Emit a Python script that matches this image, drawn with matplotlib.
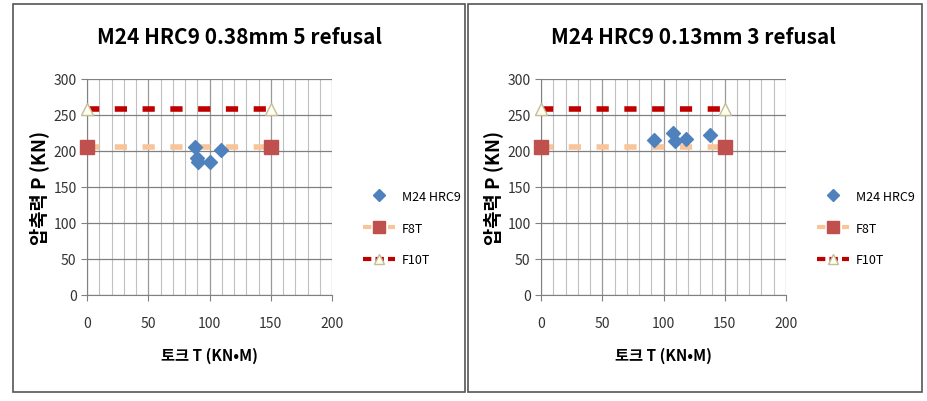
import matplotlib.pyplot as plt
from matplotlib.patches import Rectangle
from matplotlib.lines import Line2D

plt.rcParams['font.family'] = ['Noto Sans CJK KR', 'DejaVu Sans']

titles = ["M24 HRC9 0.38mm 5 refusal", "M24 HRC9 0.13mm 3 refusal"]
m24_x = [[88, 90, 91, 100, 109], [92, 108, 109, 118, 138]]
m24_y = [[205, 190, 185, 185, 201], [215, 225, 214, 216, 222]]
limit_x = [0, 150]
f8t_y = [205, 205]
f10t_y = [258, 258]
x_ticks = [0, 50, 100, 150, 200]
y_ticks = [0, 50, 100, 150, 200, 250, 300]

W, H = 927, 402
fig = plt.figure(figsize=(W / 100, H / 100), dpi=100)

# panel frames (pixels: x0, x1)
frames = [(13, 465), (468, 922)]
axes_left = [87, 541]
title_x = [240, 693]
for (fx0, fx1) in frames:
    fig.patches.append(Rectangle((fx0 / W, 1 - 393 / H), (fx1 - fx0) / W, 388 / H,
                                 transform=fig.transFigure, fill=False,
                                 edgecolor="#555555", linewidth=1.2))

for i in range(2):
    ax = fig.add_axes([axes_left[i] / W, 1 - 296 / H, 245 / W, 216 / H])
    ax.set_xlim(0, 200)
    ax.set_ylim(0, 300)
    ax.set_xticks(x_ticks)
    ax.set_yticks(y_ticks)
    ax.set_xticks(range(0, 201, 10), minor=True)
    ax.grid(True, which="minor", axis="x", color="#c0c0c0", linewidth=0.8)
    ax.grid(True, which="major", axis="x", color="#999999", linewidth=0.9)
    ax.grid(True, which="major", axis="y", color="#808080", linewidth=0.9)
    ax.tick_params(which="minor", length=0)
    ax.tick_params(which="major", length=4, color="#808080", labelsize=10,
                   labelcolor="#333333", direction="out")
    ax.tick_params(axis="x", pad=11)
    for s in ["top", "right"]:
        ax.spines[s].set_visible(False)
    for s in ["left", "bottom"]:
        ax.spines[s].set_color("#808080")
    ax.set_axisbelow(True)

    ax.plot(limit_x, f8t_y, color="#F8C49A", linewidth=4, dashes=(2.2, 2.8),
            marker="s", markersize=10, markerfacecolor="#C0504D",
            markeredgecolor="#C0504D", clip_on=False, zorder=3)
    ax.plot(limit_x, f10t_y, color="#C00000", linewidth=4, dashes=(2.2, 2.8),
            marker="^", markersize=9, markerfacecolor="#FFFFF0",
            markeredgecolor="#C4BD97", clip_on=False, zorder=3)
    ax.scatter(m24_x[i], m24_y[i], marker="D", s=50, color="#4F81BD", zorder=4)

    ax.set_xlabel("토크 T (KN•M)", fontsize=11, fontweight="bold", labelpad=12)
    ax.set_ylabel("압축력 P (KN)", fontsize=13.5, fontweight="bold", labelpad=3)
    fig.text(title_x[i] / W, 1 - 38 / H, titles[i], fontsize=15, fontweight="bold",
             ha="center", va="center")

    handles = [
        Line2D([], [], linestyle="none", marker="D", markersize=6, color="#4F81BD"),
        Line2D([], [], color="#F8C49A", linewidth=3, dashes=(2, 1),
               marker="s", markersize=8, markerfacecolor="#C0504D", markeredgecolor="#C0504D"),
        Line2D([], [], color="#C00000", linewidth=3, dashes=(2, 1),
               marker="^", markersize=7, markerfacecolor="#FFFFF0", markeredgecolor="#C4BD97"),
    ]
    ax.legend(handles, ["M24 HRC9", "F8T", "F10T"], loc="center left",
              bbox_to_anchor=(1.08, 0.31), frameon=False, fontsize=9,
              labelspacing=1.5, handlelength=2.6, handletextpad=0.5)

fig.savefig("out.png", dpi=100)
